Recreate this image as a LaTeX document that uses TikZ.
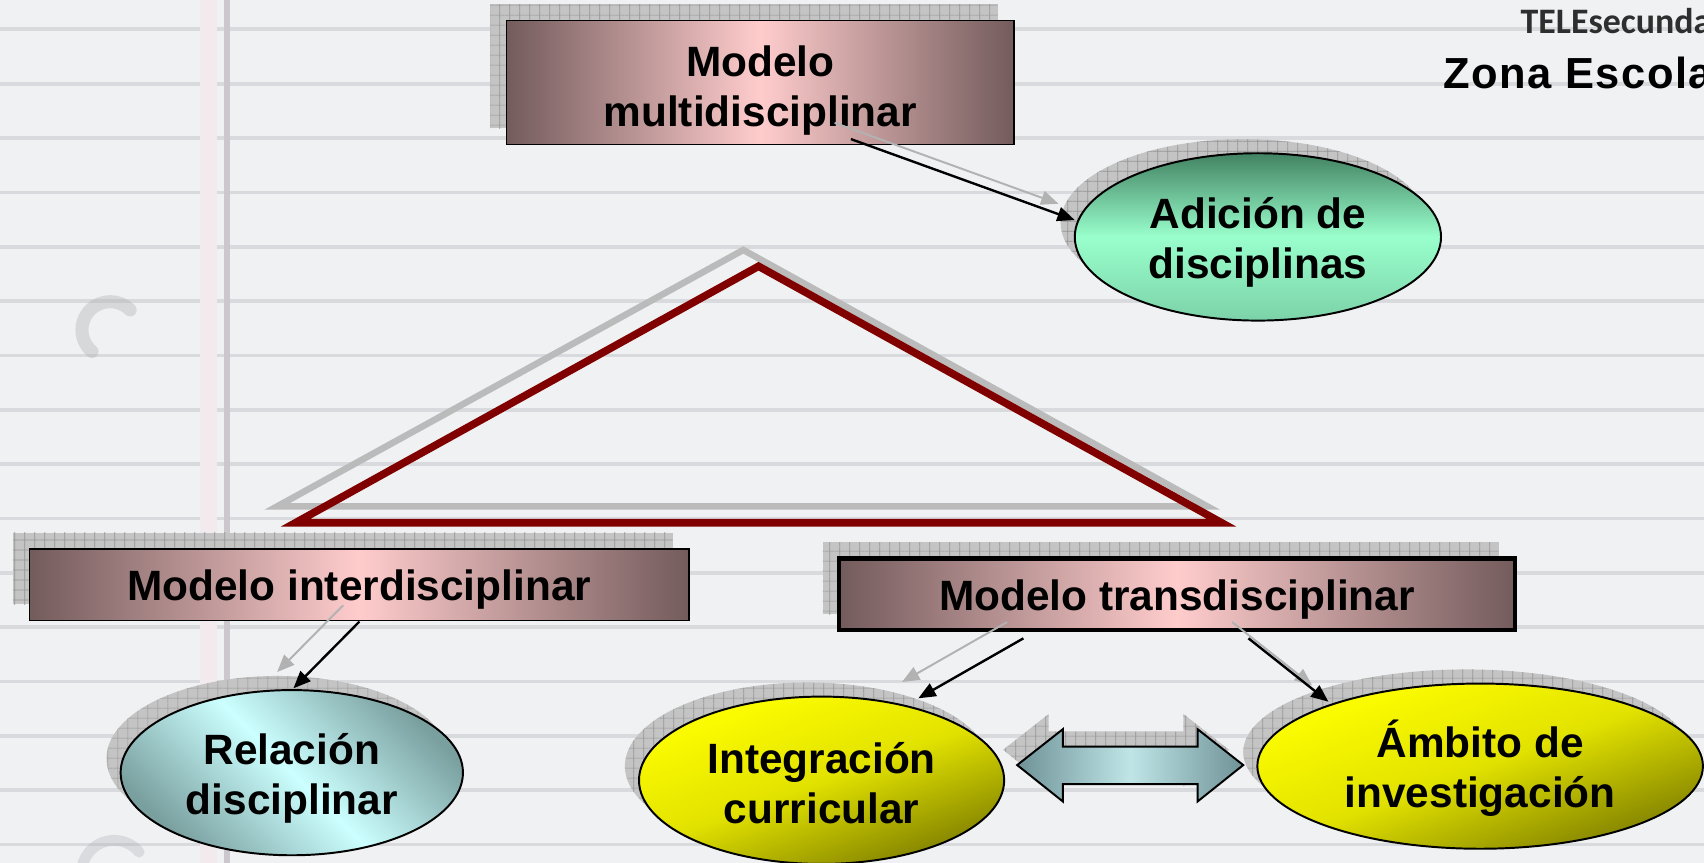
\documentclass[tikz,border=0pt]{standalone}
\usepackage{fontspec}
\setmainfont{Liberation Sans}
\newfontfamily\calib{Carlito}
\newfontfamily\zonafont[LetterSpace=3.5]{Liberation Sans}
\usetikzlibrary{calc,shadows,patterns.meta,arrows.meta,shapes.geometric}

\definecolor{bgbase}{HTML}{EFF1F3}
\definecolor{ruleln}{HTML}{D8DADD}
\definecolor{margln}{HTML}{CBC7CC}
\definecolor{margpk}{HTML}{F3EAEE}
\definecolor{boxdark}{HTML}{735B5C}
\definecolor{boxpink}{HTML}{FFCCCC}
\definecolor{grdark}{HTML}{428262}
\definecolor{grmint}{HTML}{99FFCC}
\definecolor{grlow}{HTML}{7CD2A8}
\definecolor{cydark}{HTML}{7A9F9F}
\definecolor{cylight}{HTML}{CCFFFF}
\definecolor{yelhi}{HTML}{FFFF00}
\definecolor{yelmid}{HTML}{E2E200}
\definecolor{yello}{HTML}{808000}
\definecolor{arrdark}{HTML}{6E9296}
\definecolor{arrlight}{HTML}{C0E5E7}
\definecolor{tri}{HTML}{800000}
\definecolor{trish}{HTML}{BBBBBB}
\definecolor{shbase}{HTML}{C4C4C4}
\definecolor{shline}{HTML}{939393}
\definecolor{arrsh}{HTML}{B2B2B2}
\definecolor{telegray}{HTML}{2E2E2E}
\definecolor{smudge}{HTML}{A9ABAE}

\tikzdeclarepattern{
  name=shgrid,
  type=uncolored,
  bounding box={(0pt,0pt) and (9.5pt,9.5pt)},
  tile size={(9.5pt,9.5pt)},
  code={
    \draw[line width=0.7pt] (0pt,4.75pt) -- (9.5pt,4.75pt);
    \draw[line width=0.7pt] (4.75pt,0pt) -- (4.75pt,9.5pt);
  }
}

\newcommand\fstrut[1]{\rule{0pt}{#1pt}}
\newcommand\dstrut{\rule[-10pt]{0pt}{10pt}}

\tikzset{
  shadowed/.style 2 args={
    general shadow={shadow xshift=#1, shadow yshift=#2, fill=shbase},
    general shadow={shadow xshift=#1, shadow yshift=#2, pattern=shgrid, pattern color=shline}},
  bigtext/.style={font=\bfseries\fontsize{39}{46}\selectfont},
  modelbox/.style={rectangle, draw=black, line width=1.5pt,
    left color=boxdark, right color=boxdark, middle color=boxpink,
    inner sep=0pt, outer sep=0pt, bigtext, align=center, shadowed={-15pt}{15pt}},
  ellnode/.style={ellipse, draw=black, line width=1.8pt, inner sep=0pt, outer sep=0pt,
    bigtext, align=center, shadowed={-13pt}{13pt}},
  yellowfill/.style={top color=yelhi, bottom color=yello, middle color=yelmid, shading angle=20},
  conn/.style={draw=black, line width=2.2pt, -{Triangle[length=16pt,width=13pt]}},
  connsh/.style={draw=arrsh, line width=1.8pt, -{Triangle[length=16pt,width=13pt]},
    transform canvas={shift={(-15pt,15pt)}}},
}

\begin{document}
\begin{tikzpicture}[x=1pt,y=-1pt]
\useasboundingbox (0,0) rectangle (1568,794);

% notebook paper background
\fill[bgbase] (0,0) rectangle (1568,794);
\foreach \k in {0,...,15}{
  \fill[ruleln] (0,{27+50*\k-1.7}) rectangle (1568,{27+50*\k+1.7});
}
\fill[margpk] (184,0) rectangle (200,794);
\fill[margln] (206,0) rectangle (212,794);
\draw[smudge, line width=12pt, opacity=0.35, line cap=round]
  (119.8,285.2) arc[start angle=-45, end angle=-230, radius=26];
\draw[smudge, line width=10pt, opacity=0.3, line cap=round]
  (128,784) arc[start angle=-40, end angle=-170, radius=30];

% triangle with shadow
\draw[line width=6pt, draw=trish, line join=miter] (684,230) -- (255,466) -- (1111,466) -- cycle;
\draw[line width=7pt, draw=tri, line join=miter] (698,245) -- (272,481) -- (1124,481) -- cycle;

% model boxes
\node[modelbox, minimum width=467pt, minimum height=114pt] (multi) at (699.5,76)
  {\fstrut{44}Modelo\\multidisciplinar\dstrut};
\node[modelbox, minimum width=607pt, minimum height=66pt] (inter) at (330.5,538)
  {\fstrut{40}Modelo interdisciplinar\dstrut};
\node[modelbox, line width=4pt, minimum width=622pt, minimum height=66pt] (trans) at (1083,547)
  {\fstrut{40}Modelo transdisciplinar\dstrut};

% ellipses
\node[ellnode, top color=grdark, bottom color=grlow, middle color=grmint,
  minimum width=337pt, minimum height=154pt] (adic) at (1157.5,218)
  {\fstrut{41}Adición de\\disciplinas\dstrut};
\node[ellnode, top color=cydark, bottom color=cydark, middle color=cylight, shading angle=-45,
  minimum width=315pt, minimum height=152pt] (rel) at (268.5,711)
  {\fstrut{40.8}Relación\\disciplinar\dstrut};
\node[ellnode, yellowfill, minimum width=336pt, minimum height=154pt] (integ) at (756,718)
  {\fstrut{43.2}Integración\\curricular\dstrut};
\node[ellnode, yellowfill, minimum width=410pt, minimum height=152pt] (amb) at (1362,705)
  {\fstrut{40.4}Ámbito de\\investigación\dstrut};

% double arrow
\path[draw=black, line width=1.8pt, line join=miter,
  left color=arrdark, right color=arrdark, middle color=arrlight, shadowed={-13pt}{14pt}]
  (936,704) -- (978,671) -- (978,687) -- (1102,687) -- (1102,671) -- (1144,704)
  -- (1102,737.5) -- (1102,721.5) -- (978,721.5) -- (978,737.5) -- cycle;

% connector end points
\coordinate (s1) at ($(multi.south)+(83.5,-5)$);
\coordinate (t1) at ($(adic.center)+(-168.5,-15.5)$);
\coordinate (s2) at ($(inter.south)+(0.2,1)$);
\coordinate (t2) at ($(rel.center)+(1.5,-77.6)$);
\coordinate (s3) at ($(trans.south)+(-141.3,7.4)$);
\coordinate (t3) at ($(integ.center)+(89,-75.4)$);
\coordinate (s4) at ($(trans.south)+(65.8,7.4)$);
\coordinate (t4) at ($(amb.center)+(-139.6,-59.3)$);

\draw[connsh] (s1) -- (t1);
\draw[connsh] (s2) -- (t2);
\draw[connsh] (s3) -- (t3);
\draw[connsh] (s4) -- (t4);
\draw[conn] (s1) -- (t1);
\draw[conn] (s2) -- (t2);
\draw[conn] (s3) -- (t3);
\draw[conn] (s4) -- (t4);

% header
\node[anchor=base west, inner sep=0pt, font=\calib\bfseries\fontsize{33}{38}\selectfont, text=telegray]
  (tele) at (1399,30.7) {TELEsecunda};
\node[anchor=base west, inner sep=0pt, font=\zonafont\bfseries\fontsize{40}{46}\selectfont]
  (zona) at (1328,81) {Zona Escola};
\end{tikzpicture}
\end{document}
